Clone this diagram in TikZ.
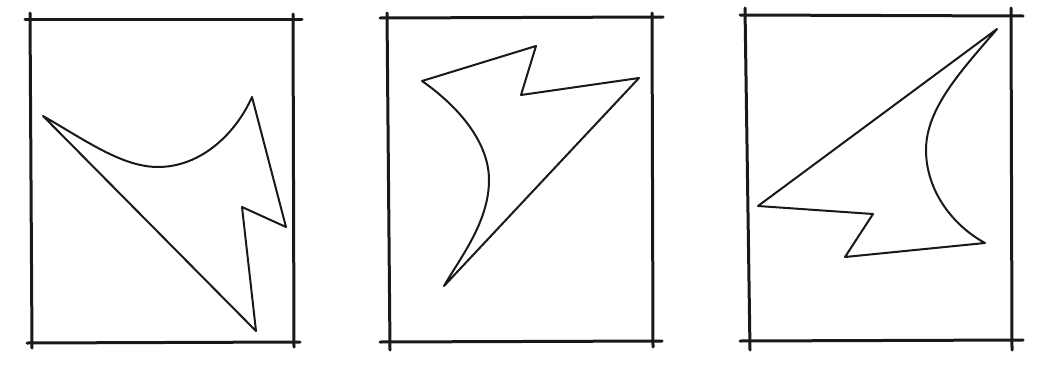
\documentclass[tikz,border=0pt]{standalone}
\begin{document}
\begin{tikzpicture}[x=1pt,y=-1pt,
  frameline/.style={line width=3pt,line cap=round,black!90},
  shapeline/.style={line width=2pt,line join=round,line cap=round,black!90}]
\useasboundingbox[fill=white] (0,0) rectangle (1039,367);
% ---------- panel 1 ----------
\draw[frameline] (25,19) -- (302,19);
\draw[frameline] (27,343) -- (300,342);
\draw[frameline] (30,13) -- (32,348);
\draw[frameline] (293,14) -- (294,347);
\coordinate (a1) at (43,116);
\coordinate (a2) at (158,167);
\coordinate (a3) at (252,97);
\coordinate (a4) at (286,227);
\coordinate (a5) at (242,207);
\coordinate (a6) at (256,331);
\draw[shapeline] (a1) .. controls (85,140) and (122,167) .. (a2)
  .. controls (200,167) and (235,135) .. (a3) -- (a4) -- (a5) -- (a6) -- cycle;
% ---------- panel 2 ----------
\draw[frameline] (380,18) -- (663,17);
\draw[frameline] (380,342) -- (662,341);
\draw[frameline] (387,13) -- (390,350);
\draw[frameline] (652,13) -- (653,347);
\coordinate (b1) at (422,81);
\coordinate (b2) at (536,46);
\coordinate (b3) at (521,95);
\coordinate (b4) at (639,78);
\coordinate (b5) at (444,286);
\coordinate (b6) at (489,180);
\draw[shapeline] (b1) -- (b2) -- (b3) -- (b4) -- (b5)
  .. controls (460,258) and (489,222) .. (b6)
  .. controls (489,140) and (455,104) .. cycle;
% ---------- panel 3 ----------
\draw[frameline] (740,15) -- (1023,16);
\draw[frameline] (740,341) -- (1023,340);
\draw[frameline] (745,8) -- (750,350);
\draw[frameline] (1011,8) -- (1012,350);
\coordinate (c1) at (997,29);
\coordinate (c2) at (758,206);
\coordinate (c3) at (873,214);
\coordinate (c4) at (845,257);
\coordinate (c5) at (985,243);
\coordinate (c6) at (926,150);
\draw[shapeline] (c1) -- (c2) -- (c3) -- (c4) -- (c5)
  .. controls (952,225) and (926,190) .. (c6)
  .. controls (926,108) and (962,70) .. cycle;
\end{tikzpicture}
\end{document}
